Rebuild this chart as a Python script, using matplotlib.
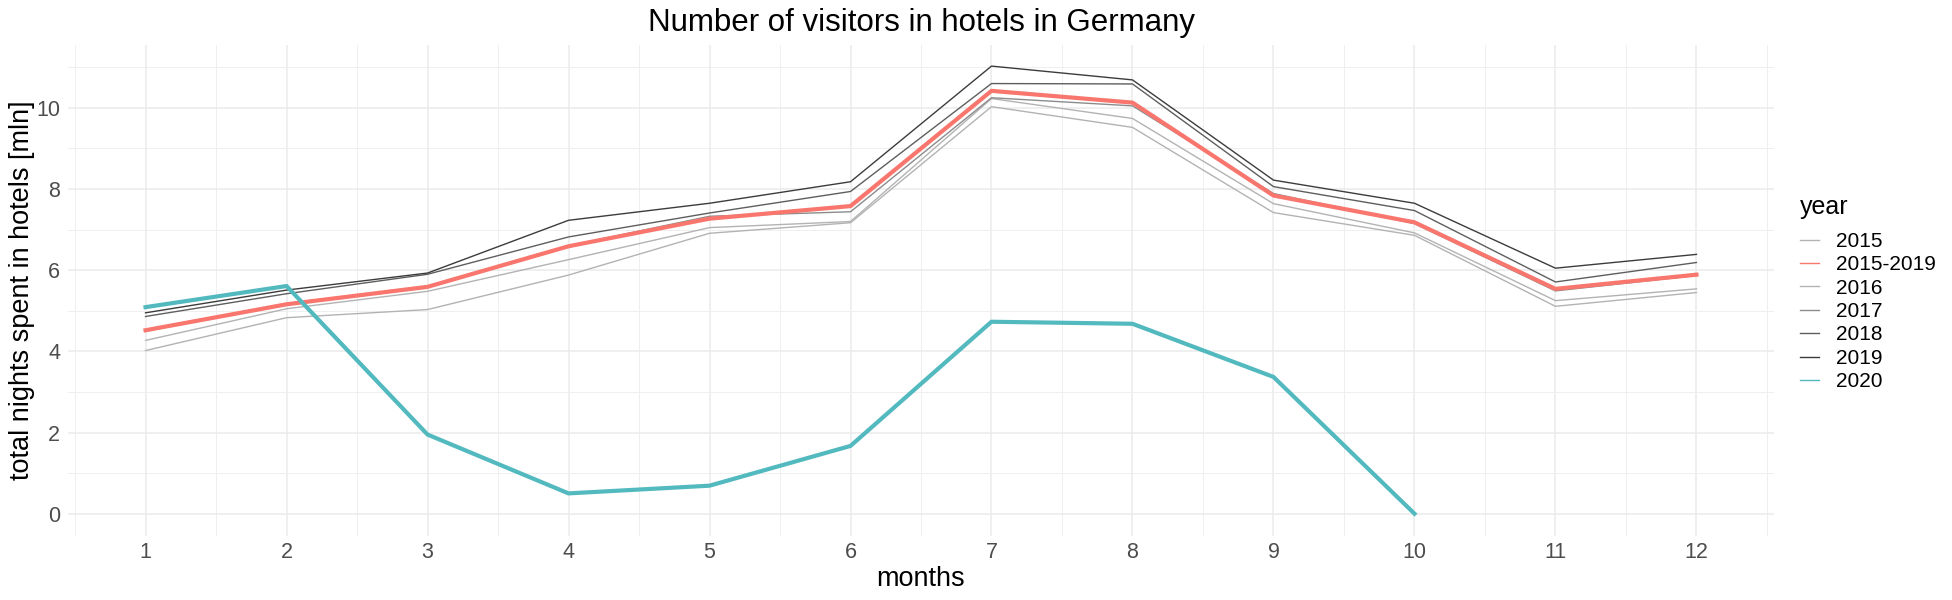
import matplotlib
matplotlib.use("Agg")
import matplotlib.pyplot as plt
from matplotlib.lines import Line2D

plt.rcParams["font.family"] = ["Liberation Sans", "DejaVu Sans"]

months = [1, 2, 3, 4, 5, 6, 7, 8, 9, 10, 11, 12]
months_2020 = [1, 2, 3, 4, 5, 6, 7, 8, 9, 10]

y2015 = [4.02, 4.83, 5.03, 5.88, 6.91, 7.17, 10.03, 9.52, 7.42, 6.86, 5.11, 5.45]
y2016 = [4.27, 5.05, 5.48, 6.26, 7.05, 7.20, 10.23, 9.74, 7.64, 6.92, 5.25, 5.54]
y2017 = [4.50, 5.18, 5.60, 6.60, 7.33, 7.44, 10.25, 10.05, 7.89, 7.15, 5.49, 5.87]
y2018 = [4.86, 5.42, 5.90, 6.82, 7.41, 7.94, 10.60, 10.59, 8.06, 7.47, 5.71, 6.19]
y2019 = [4.95, 5.51, 5.93, 7.23, 7.65, 8.18, 11.03, 10.69, 8.22, 7.65, 6.05, 6.39]
avg_2015_2019 = [4.52, 5.16, 5.59, 6.59, 7.27, 7.58, 10.42, 10.13, 7.84, 7.18, 5.54, 5.89]
y2020 = [5.09, 5.61, 1.95, 0.50, 0.69, 1.67, 4.73, 4.68, 3.37, 0.0]

grey_years = ["2015", "2016", "2017", "2018", "2019"]
grey_values = [y2015, y2016, y2017, y2018, y2019]
grey_colors = ["#B3B3B3", "#B3B3B3", "#8C8C8C", "#5E5E5E", "#3C3C3C"]
red = "#F8766D"
teal = "#52B9BF"

fig = plt.figure(figsize=(19.52, 6), dpi=100)
ax = fig.add_axes([68 / 1952, 1 - 536 / 600, 1706 / 1952, 491 / 600])

for vals, col in zip(grey_values, grey_colors):
    ax.plot(months, vals, color=col, lw=1.0, zorder=2)
ax.plot(months, avg_2015_2019, color=red, lw=3.0, zorder=3)
ax.plot(months_2020, y2020, color=teal, lw=3.0, zorder=4)

ax.set_xlim(0.45, 12.55)
ax.set_ylim(-0.55, 11.55)
ax.set_xticks(months)
ax.set_xticks([m + 0.5 for m in [0] + months], minor=True)
ax.set_yticks([0, 2, 4, 6, 8, 10])
ax.set_yticks([1, 3, 5, 7, 9, 11], minor=True)
ax.grid(which="major", color="#EBEBEB", lw=1.1)
ax.grid(which="minor", color="#EFEFEF", lw=0.7)
ax.set_axisbelow(True)
for s in ax.spines.values():
    s.set_visible(False)
ax.tick_params(which="both", length=0)
ax.tick_params(axis="x", labelsize=15.5, labelcolor="#4D4D4D", pad=4.5)
ax.tick_params(axis="y", labelsize=15.5, labelcolor="#4D4D4D", pad=5.5)

ax.set_xlabel("months", fontsize=19.5)
ax.set_ylabel("total nights spent in hotels [mln]", fontsize=19.5)
ax.xaxis.set_label_coords(0.5, -(566 - 536) / 491)
ax.yaxis.set_label_coords((35 - 68) / 1706, 0.5)

fig.text((68 + 1774) / 2 / 1952, 1 - 23 / 600, "Number of visitors in hotels in Germany",
         fontsize=22.5, ha="center", va="center")

# legend, sorted like ggplot
labels = ["2015", "2015-2019", "2016", "2017", "2018", "2019", "2020"]
colors = {"2015-2019": red, "2020": teal}
colors.update(dict(zip(grey_years, grey_colors)))
handles = [Line2D([], [], color=colors[l], lw=1.0) for l in labels]
fig.text(1800 / 1952, 1 - 207 / 600, "year", fontsize=18, ha="left", va="center")
fig.legend(handles, labels, loc="upper left", bbox_to_anchor=(1800 / 1952, 1 - 232 / 600),
           frameon=False, fontsize=15, borderpad=0, borderaxespad=0,
           handlelength=0.9, handletextpad=0.85, labelspacing=0.21)

fig.savefig("out.png", dpi=100)
